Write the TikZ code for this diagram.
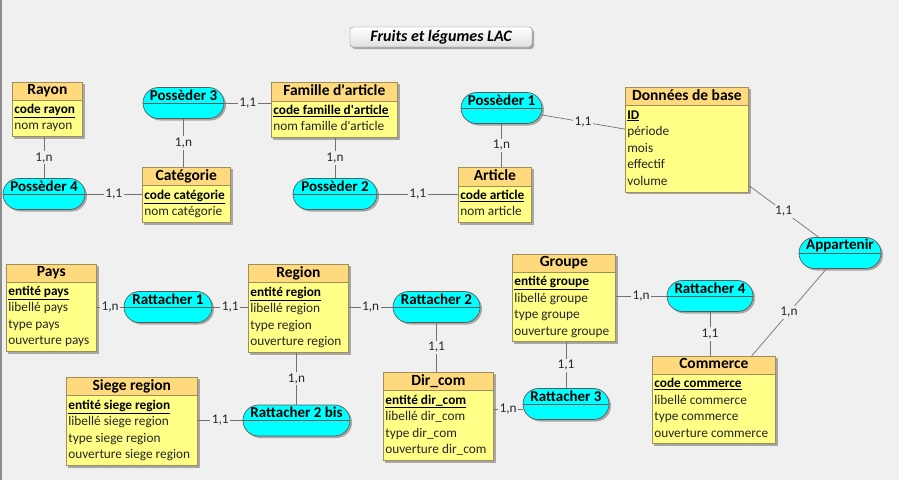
\documentclass[tikz,border=0pt]{standalone}
\usepackage{fontspec}
\setmainfont{Carlito}
\usepackage{tikz}
\usetikzlibrary{shapes,shapes.misc,shapes.multipart,shadows,calc,positioning}

\pgfdeclarelayer{background}
\pgfsetlayers{background,main}

\definecolor{fond}{HTML}{F0F0F0}
\definecolor{entete}{HTML}{FFD97E}
\definecolor{corps}{HTML}{FFFF88}
\definecolor{bordent}{HTML}{A08F5A}
\definecolor{cyanasso}{HTML}{00FFFF}
\definecolor{bordasso}{HTML}{5A5A5A}

\newcommand{\etitre}{\fontsize{15.5}{13}\selectfont\bfseries\strut}
\newcommand{\ecorps}{\fontsize{13.3}{16.5}\selectfont\color{black!85}}
\newcommand{\cle}[1]{\textcolor{black}{\underline{\textbf{#1}}}}

\tikzset{
    entity/.style ={rectangle split, rectangle split parts=2, draw=bordent, line width=0.7pt,
        rectangle split part fill={entete,corps}, rectangle split part align={center,left},
        anchor=north west, inner xsep=2pt, inner ysep=1.5pt},
    asso/.style ={rounded rectangle, draw=bordasso, line width=0.7pt, fill=cyanasso,
        minimum height=31pt, inner sep=0pt,
        drop shadow={shadow xshift=2pt, shadow yshift=-2pt, opacity=.3, fill=black},
        path picture={\draw[bordasso, line width=0.7pt] (path picture bounding box.west) -- (path picture bounding box.east);}},
    nomasso/.style = {font=\fontsize{15}{15}\selectfont\bfseries, yshift=8pt, inner sep=0pt},
    card/.style = {fill=fond, inner sep=1.5pt, font=\fontsize{13.3}{13}\selectfont, text=black!85},
    lien/.style = {draw=black!55, line width=0.7pt},
    ombre/.style = {fill=black, opacity=.3},
    titre/.style = {draw=black!50, rounded corners=3pt, top color=white, bottom color=black!12,
        minimum width=182pt, minimum height=20pt, inner sep=0pt,
        font=\fontsize{16}{16}\selectfont\bfseries\itshape,
        drop shadow={shadow xshift=2pt, shadow yshift=-2pt, opacity=.3, fill=black}}
}

\begin{document}
\begin{tikzpicture}[x=1pt,y=-1pt]
\useasboundingbox (0,0) rectangle (899,480);
\begin{pgfonlayer}{background}
    \fill[fond] (0,0) rectangle (899,480);
\end{pgfonlayer}
\draw[black!45, line width=1.5pt] (0.75,0) -- (0.75,480);

    % title
    \node[titre] (titre) at (441,37) {Fruits et légumes LAC};

    % entities
    \node[entity, minimum width=70pt] (rayon) at (12,82)
        {\etitre Rayon \nodepart{two}\ecorps\begin{tabular}{@{}l@{}}\cle{code rayon}\\nom rayon\end{tabular}};
    \node[entity, minimum width=126pt] (famille) at (271,82)
        {\etitre Famille d\textquotesingle article \nodepart{two}\ecorps\begin{tabular}{@{}l@{}}\cle{code famille d\textquotesingle article}\\nom famille d\textquotesingle article\end{tabular}};
    \node[entity, minimum width=88pt] (categorie) at (142,167)
        {\etitre Catégorie \nodepart{two}\ecorps\begin{tabular}{@{}l@{}}\cle{code catégorie}\\nom catégorie\end{tabular}};
    \node[entity, minimum width=73pt] (article) at (458,167)
        {\etitre Article \nodepart{two}\ecorps\begin{tabular}{@{}l@{}}\cle{code article}\\nom article\end{tabular}};
    \node[entity, minimum width=123pt] (donnees) at (625,87)
        {\etitre Données de base \nodepart{two}\ecorps\begin{tabular}{@{}l@{}}\cle{ID}\\période\\mois\\effectif\\volume\end{tabular}};
    \node[entity, minimum width=90pt] (pays) at (6,264)
        {\etitre Pays \nodepart{two}\ecorps\begin{tabular}{@{}l@{}}\cle{entité pays}\\libellé pays\\type pays\\ouverture pays\end{tabular}};
    \node[entity, minimum width=100pt] (region) at (248,264)
        {\etitre Region \nodepart{two}\ecorps\begin{tabular}{@{}l@{}}\cle{entité region}\\libellé region\\type region\\ouverture region\end{tabular}};
    \node[entity, minimum width=103pt] (groupe) at (512,254)
        {\etitre Groupe \nodepart{two}\ecorps\begin{tabular}{@{}l@{}}\cle{entité groupe}\\libellé groupe\\type groupe\\ouverture groupe\end{tabular}};
    \node[entity, minimum width=123pt] (commerce) at (652,356)
        {\etitre Commerce \nodepart{two}\ecorps\begin{tabular}{@{}l@{}}\cle{code commerce}\\libellé commerce\\type commerce\\ouverture commerce\end{tabular}};
    \node[entity, minimum width=131pt] (siege) at (66,377)
        {\etitre Siege region \nodepart{two}\ecorps\begin{tabular}{@{}l@{}}\cle{entité siege region}\\libellé siege region\\type siege region\\ouverture siege region\end{tabular}};
    \node[entity, minimum width=110pt] (dircom) at (383,372)
        {\etitre Dir\_com \nodepart{two}\ecorps\begin{tabular}{@{}l@{}}\cle{entité dir\_com}\\libellé dir\_com\\type dir\_com\\ouverture dir\_com\end{tabular}};

    % associations
    \node[asso, minimum width=81pt, label={[nomasso]center:Possèder 3}] (p3) at (183.5,103) {};
    \node[asso, minimum width=82pt, label={[nomasso]center:Possèder 4}] (p4) at (44,194) {};
    \node[asso, minimum width=84pt, label={[nomasso]center:Possèder 2}] (p2) at (335,194) {};
    \node[asso, minimum width=81pt, label={[nomasso]center:Possèder 1}] (p1) at (501.5,108) {};
    \node[asso, minimum width=82pt, label={[nomasso]center:Appartenir}] (app) at (840,253) {};
    \node[asso, minimum width=88pt, label={[nomasso]center:Rattacher 1}] (r1) at (168,307) {};
    \node[asso, minimum width=87pt, label={[nomasso]center:Rattacher 2}] (r2) at (436.5,307) {};
    \node[asso, minimum width=86pt, label={[nomasso]center:Rattacher 4}] (r4) at (710,296) {};
    \node[asso, minimum width=107pt, label={[nomasso]center:Rattacher 2 bis}] (r2b) at (296.5,420.5) {};
    \node[asso, minimum width=86pt, label={[nomasso]center:Rattacher 3}] (r3) at (566,404) {};
    \coordinate (r3w) at ($(r3.west)+(0,5)$);

    % links with cardinalities
    \path (p4.north) edge[lien] node[card]{1,n} (p4.north |- rayon.south);
    \path (p4.east) edge[lien] node[card]{1,1} (p4.east -| categorie.west);
    \path (p3.south) edge[lien] node[card]{1,n} (p3.south |- categorie.north);
    \path (p3.east) edge[lien] node[card]{1,1} (p3.east -| famille.west);
    \path (p2.north) edge[lien] node[card]{1,n} (p2.north |- famille.south);
    \path (p2.east) edge[lien] node[card]{1,1} (p2.east -| article.west);
    \path (p1.south) edge[lien] node[card]{1,n} (p1.south |- article.north);
    \path (p1) edge[lien] node[card]{1,1} (donnees);
    \path (donnees) edge[lien] node[card]{1,1} (app);
    \path (app) edge[lien] node[card]{1,n} (commerce);
    \path (r1.west) edge[lien] node[card]{1,n} (r1.west -| pays.east);
    \path (r1.east) edge[lien] node[card]{1,1} (r1.east -| region.west);
    \path (r2.west) edge[lien] node[card]{1,n} (r2.west -| region.east);
    \path (r2.south) edge[lien] node[card]{1,1} (r2.south |- dircom.north);
    \path (r2b.north) edge[lien] node[card]{1,n} (r2b.north |- region.south);
    \path (r2b.west) edge[lien] node[card]{1,1} (r2b.west -| siege.east);
    \path (r3w) edge[lien] node[card]{1,n} (r3w -| dircom.east);
    \path (r3.north) edge[lien] node[card]{1,1} (r3.north |- groupe.south);
    \path (r4.west) edge[lien] node[card]{1,n} (r4.west -| groupe.east);
    \path (r4.south) edge[lien] node[card]{1,1} (r4.south |- commerce.north);

    % entity shadows
    \begin{pgfonlayer}{background}
    \foreach \e in {rayon,famille,categorie,article,donnees,pays,region,groupe,commerce,siege,dircom}
        \fill[ombre] ([shift={(2pt,-2pt)}]\e.south west) rectangle ([shift={(2pt,-2pt)}]\e.north east);
    \end{pgfonlayer}

\end{tikzpicture}
\end{document}
